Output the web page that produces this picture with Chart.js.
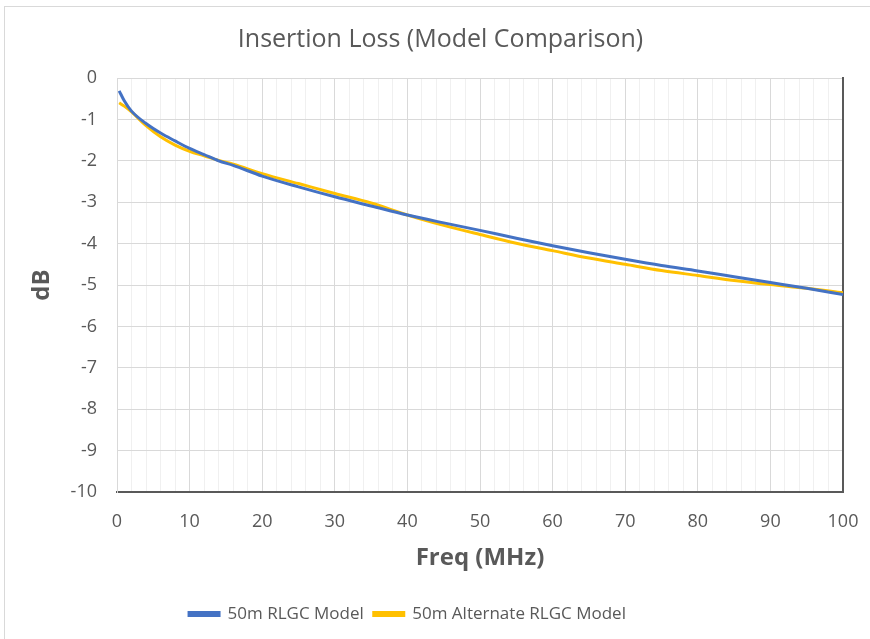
<!DOCTYPE html>
<html>
<head>
<meta charset="utf-8">
<script src="https://cdn.jsdelivr.net/npm/chart.js@4/dist/chart.umd.min.js"></script>
<style>
    html, body { margin: 0; padding: 0; background: #fff; overflow: hidden; }
    #frame { position: absolute; left: 4px; top: 6px; width: 900px; height: 700px; border: 1px solid #d9d9d9; }
    #chart { position: absolute; left: 0; top: 0; }
</style>
</head>
<body>
<div id="frame"></div>
<canvas id="chart" width="870" height="639"></canvas>
<script>
// ===== DATA =====
const freqMHz = [0.3, 1, 2, 4, 6, 8, 10, 12, 14, 16, 20, 25, 30, 35, 40, 45, 50, 55, 60, 65, 70, 75, 80, 85, 90, 95, 100];
const rlgcModel = [-0.31, -0.55, -0.80, -1.10, -1.33, -1.52, -1.70, -1.85, -2.00, -2.11, -2.37, -2.63, -2.87, -3.09, -3.31, -3.50, -3.68, -3.87, -4.05, -4.22, -4.38, -4.53, -4.66, -4.80, -4.94, -5.08, -5.23];
const altRlgcModel = [-0.60, -0.68, -0.82, -1.15, -1.42, -1.62, -1.77, -1.88, -1.99, -2.08, -2.31, -2.55, -2.79, -3.02, -3.31, -3.56, -3.78, -3.99, -4.17, -4.35, -4.50, -4.65, -4.77, -4.89, -4.99, -5.08, -5.19];
const seriesNames = ['50m RLGC Model', '50m Alternate RLGC Model'];
const xTicks = { min: 0, max: 100, minor: 2, major: 10 };
const yTicks = { min: -10, max: 0, step: 1 };

const textColor = '#595959';
const font = 'Open Sans';

function toPoints(ys) {
    return freqMHz.map((f, i) => ({ x: f, y: ys[i] }));
}

// nudge title right and legend left, like the original sheet
const boxShift = {
    id: 'boxShift',
    afterLayout(chart) {
        if (chart.titleBlock) {
            chart.titleBlock.left += 17;
            chart.titleBlock.right += 17;
        }
        if (chart.legend) {
            chart.legend.left -= 16;
            chart.legend.right -= 16;
        }
    }
};

const ctx = document.getElementById('chart').getContext('2d');

new Chart(ctx, {
    type: 'line',
    data: {
        datasets: [{
            label: seriesNames[0],
            data: toPoints(rlgcModel),
            borderColor: '#4472C4',
            backgroundColor: '#4472C4',
            borderWidth: 3,
            pointRadius: 0,
            cubicInterpolationMode: 'monotone'
        }, {
            label: seriesNames[1],
            data: toPoints(altRlgcModel),
            borderColor: '#FFC000',
            backgroundColor: '#FFC000',
            borderWidth: 3,
            pointRadius: 0,
            cubicInterpolationMode: 'monotone'
        }]
    },
    plugins: [boxShift],
    options: {
        responsive: false,
        animation: false,
        layout: { padding: { left: 4, right: 27, top: 0, bottom: 6.5 } },
        plugins: {
            title: {
                display: true,
                text: 'Insertion Loss (Model Comparison)',
                color: textColor,
                font: { family: font, size: 25, weight: 'normal', lineHeight: 1.2 },
                padding: { top: 25, bottom: 23 }
            },
            legend: {
                position: 'bottom',
                labels: {
                    color: textColor,
                    font: { family: font, size: 17 },
                    boxWidth: 30,
                    boxHeight: 3,
                    padding: 10
                }
            },
            tooltip: { enabled: false }
        },
        scales: {
            x: {
                type: 'linear',
                min: xTicks.min,
                max: xTicks.max,
                afterFit: s => {
                    s.height = 103.5;
                    s.paddingRight = 0;
                },
                ticks: {
                    stepSize: xTicks.minor,
                    autoSkip: false,
                    maxRotation: 0,
                    padding: 19,
                    color: textColor,
                    font: { family: font, size: 18 },
                    callback: v => (v % xTicks.major === 0 ? v : '')
                },
                grid: {
                    drawTicks: false,
                    color: c => (c.tick && c.tick.value % xTicks.major === 0 ? '#d9d9d9' : '#f0f0f0')
                },
                border: { color: '#595959', width: 2 },
                title: {
                    display: true,
                    text: 'Freq (MHz)',
                    color: textColor,
                    font: { family: font, size: 24, weight: 'bold', lineHeight: 1.2 },
                    padding: { top: 0, bottom: 23 }
                }
            },
            y: {
                min: yTicks.min,
                max: yTicks.max,
                afterFit: s => { s.width = 113; },
                ticks: {
                    stepSize: yTicks.step,
                    padding: 20,
                    color: textColor,
                    font: { family: font, size: 18 }
                },
                grid: { drawTicks: false, color: '#d9d9d9' },
                border: { color: '#d9d9d9' },
                title: {
                    display: true,
                    text: 'dB',
                    color: textColor,
                    font: { family: font, size: 24, weight: 'bold', lineHeight: 1.2 },
                    padding: { top: 23.6, bottom: 0 }
                }
            },
            yEdge: {
                position: 'right',
                min: yTicks.min,
                max: yTicks.max,
                afterFit: s => { s.width = 0; },
                ticks: { display: false },
                grid: { display: false, drawTicks: false },
                border: { color: '#595959', width: 2 }
            }
        }
    }
});
</script>
</body>
</html>
